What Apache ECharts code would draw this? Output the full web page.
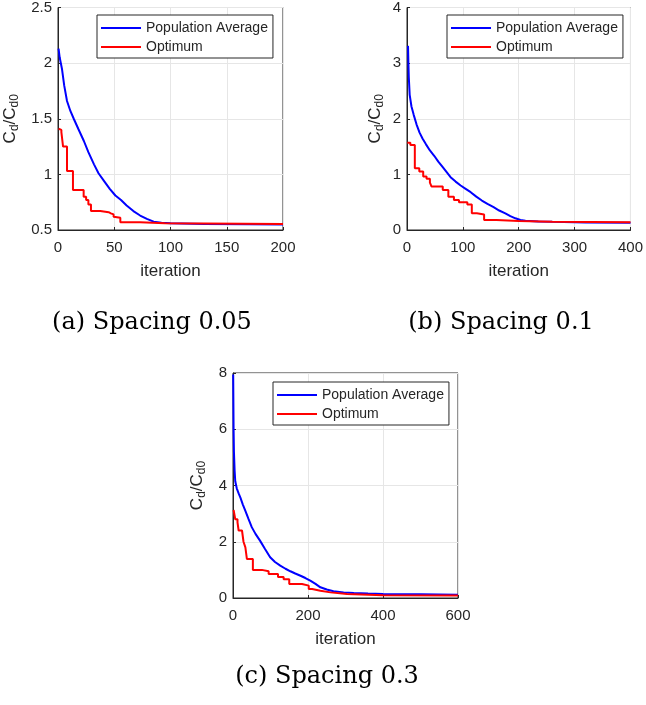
<!DOCTYPE html>
<html>
<head>
<meta charset="utf-8">
<title>Convergence history</title>
<script src="https://cdn.jsdelivr.net/npm/echarts@6/dist/echarts.min.js"></script>
<style>
    html, body { margin: 0; padding: 0; background: #fff; }
    #convergence { width: 646px; height: 705px; }
</style>
</head>
<body>
<div id="convergence"></div>
<script>

// Data ([iteration, Cd/Cd0])
// ------------------------------

var seriesNames = ['Population Average', 'Optimum'];
var captions = ['(a) Spacing 0.05', '(b) Spacing 0.1', '(c) Spacing 0.3'];

// (a) spacing 0.05
var avgA = [[0.5,2.13],[1.5,2.05],[3.5,1.95],[5.5,1.8],[8,1.66],[11,1.57],[14,1.5],[18,1.41],[23,1.3],[27,1.2],[32,1.09],[36,1.01],[41,0.94],[46,0.87],[51,0.81],[56,0.77],[61,0.72],[67,0.67],[73,0.63],[79,0.6],[85,0.575],[92,0.565],[100,0.56],[130,0.555],[170,0.552],[200,0.55]];
var optA = [[0.5,1.41],[2,1.4],[3,1.38],[4.5,1.25],[8,1.03],[13.3,0.86],[22.8,0.8],[25,0.77],[27,0.73],[29.3,0.67],[37.6,0.66],[45,0.65],[47,0.64],[49.4,0.62],[51,0.61],[55.4,0.57],[73,0.56],[95,0.555],[200,0.55]];

// (b) spacing 0.1
var avgB = [[1.8,3.31],[2.5,3.0],[3.2,2.75],[4.8,2.43],[8,2.22],[12,2.07],[17,1.9],[22.5,1.75],[28,1.64],[34,1.54],[41,1.43],[49,1.33],[56,1.23],[64,1.13],[71,1.04],[78,0.95],[87,0.87],[96,0.8],[105,0.74],[114,0.68],[124,0.6],[134,0.53],[144,0.47],[155,0.41],[165,0.35],[176,0.3],[185,0.25],[194,0.21],[203,0.18],[212,0.166],[235,0.155],[260,0.147],[320,0.135],[400,0.13]];
var optB = [[0.5,1.57],[6,1.53],[14,1.11],[22,1.05],[29,0.96],[35,0.92],[41,0.85],[44,0.78],[64,0.72],[74,0.6],[84,0.54],[93,0.5],[108,0.46],[116,0.3],[125,0.28],[138,0.18],[160,0.16],[200,0.15],[260,0.14],[400,0.13]];

// (c) spacing 0.3
var avgC = [[0.5,7.95],[1,7.0],[1.6,5.96],[2.5,5.2],[4.3,4.53],[6,4.15],[10,3.9],[15,3.72],[20,3.56],[26,3.33],[33,3.1],[41,2.82],[50,2.52],[60,2.28],[72,2.04],[85,1.75],[99,1.45],[112,1.28],[126,1.15],[140,1.04],[153,0.95],[166,0.87],[180,0.79],[193,0.71],[206,0.62],[220,0.5],[233,0.38],[250,0.3],[268,0.24],[295,0.2],[322,0.18],[360,0.16],[400,0.14],[500,0.13],[600,0.12]];
var optC = [[1.6,3.13],[6,2.8],[12,2.69],[15,2.4],[24,2.34],[28,2.0],[33,1.8],[37,1.39],[53,1.0],[77,0.95],[95,0.85],[120,0.75],[135,0.67],[150,0.5],[184,0.44],[202,0.32],[211,0.26],[233,0.2],[260,0.14],[304,0.1],[400,0.09],[600,0.08]];

// Axis ranges [min, max, interval]
var xRanges = [[0, 200, 50], [0, 400, 100], [0, 600, 200]];
var yRanges = [[0.5, 2.5, 0.5], [0, 4, 1], [0, 8, 2]];


// Setup module
// ------------------------------

var ConvergenceFigure = function() {

    var _convergenceChart = function() {
        if (typeof echarts == 'undefined') {
            console.warn('Warning - echarts.min.js is not loaded.');
            return;
        }

        var element = document.getElementById('convergence');
        if (!element) return;

        var chart = echarts.init(element);

        var sans = '"Liberation Sans", Arial, Helvetica, sans-serif';
        var serif = '"DejaVu Serif", "Liberation Serif", serif';
        var ink = '#262626';

        // panel boxes (px)
        var grids = [
            { left: 58, top: 5, width: 225, height: 225 },
            { left: 407, top: 5, width: 226, height: 225 },
            { left: 233, top: 373, width: 225, height: 225 }
        ];
        var yNameGaps = [37, 21, 25];
        var legendPos = [[97, 15], [447, 15], [273, 382]];
        var captionPos = [[152, 323], [501, 323], [327, 677]];
        var avgData = [avgA, avgB, avgC];
        var optData = [optA, optB, optC];

        var xAxes = [], yAxes = [], legends = [], series = [], graphics = [];

        grids.forEach(function(g, i) {
            g.show = true;
            g.borderColor = ink;
            g.borderWidth = 1;
            g.backgroundColor = '#fff';

            xAxes.push({
                type: 'value',
                gridIndex: i,
                min: xRanges[i][0],
                max: xRanges[i][1],
                interval: xRanges[i][2],
                name: 'iteration',
                nameLocation: 'middle',
                nameGap: 33,
                nameTextStyle: { fontFamily: sans, fontSize: 17, color: ink },
                axisLine: { lineStyle: { color: ink, width: 1 } },
                axisTick: { inside: true, length: 3, lineStyle: { color: ink } },
                axisLabel: { fontFamily: sans, fontSize: 15, color: ink, margin: 10 },
                splitLine: { show: true, lineStyle: { color: '#e6e6e6' } }
            });

            yAxes.push({
                type: 'value',
                gridIndex: i,
                min: yRanges[i][0],
                max: yRanges[i][1],
                interval: yRanges[i][2],
                name: '{m|C}{s|d}{m|/C}{s|d0}',
                nameLocation: 'middle',
                nameRotate: 90,
                nameGap: yNameGaps[i],
                nameTextStyle: {
                    rich: {
                        m: { fontFamily: sans, fontSize: 17, color: ink, lineHeight: 22, verticalAlign: 'middle' },
                        s: { fontFamily: sans, fontSize: 12, color: ink, lineHeight: 12, verticalAlign: 'bottom' }
                    }
                },
                axisLine: { lineStyle: { color: ink, width: 1 } },
                axisTick: { inside: true, length: 3, lineStyle: { color: ink } },
                axisLabel: { fontFamily: sans, fontSize: 15, color: ink, margin: 6 },
                splitLine: { show: true, lineStyle: { color: '#e6e6e6' } }
            });

            legends.push({
                data: seriesNames,
                orient: 'vertical',
                left: legendPos[i][0],
                top: legendPos[i][1],
                padding: [6, 5, 4, 4],
                itemGap: 5,
                icon: 'rect',
                itemWidth: 40,
                itemHeight: 2,
                selectedMode: false,
                borderColor: ink,
                borderWidth: 1,
                backgroundColor: '#fff',
                textStyle: { fontFamily: sans, fontSize: 14, color: ink }
            });

            series.push({
                name: seriesNames[0],
                type: 'line',
                xAxisIndex: i,
                yAxisIndex: i,
                symbol: 'none',
                clip: true,
                lineStyle: { color: '#0000ff', width: 2 },
                itemStyle: { color: '#0000ff' },
                data: avgData[i]
            });
            series.push({
                name: seriesNames[1],
                type: 'line',
                xAxisIndex: i,
                yAxisIndex: i,
                step: 'end',
                symbol: 'none',
                clip: true,
                lineStyle: { color: '#ff0000', width: 2 },
                itemStyle: { color: '#ff0000' },
                data: optData[i]
            });

            graphics.push({
                type: 'text',
                x: captionPos[i][0],
                y: captionPos[i][1],
                style: {
                    text: captions[i],
                    font: '24px ' + serif,
                    fill: '#000',
                    textAlign: 'center',
                    textVerticalAlign: 'middle'
                }
            });
        });

        chart.setOption({
            animation: false,
            grid: grids,
            xAxis: xAxes,
            yAxis: yAxes,
            legend: legends,
            series: series,
            graphic: graphics
        });
    };

    return {
        init: function() {
            _convergenceChart();
        }
    }
}();


// Initialize module
// ------------------------------

document.addEventListener('DOMContentLoaded', function() {
    ConvergenceFigure.init();
});
</script>
</body>
</html>
